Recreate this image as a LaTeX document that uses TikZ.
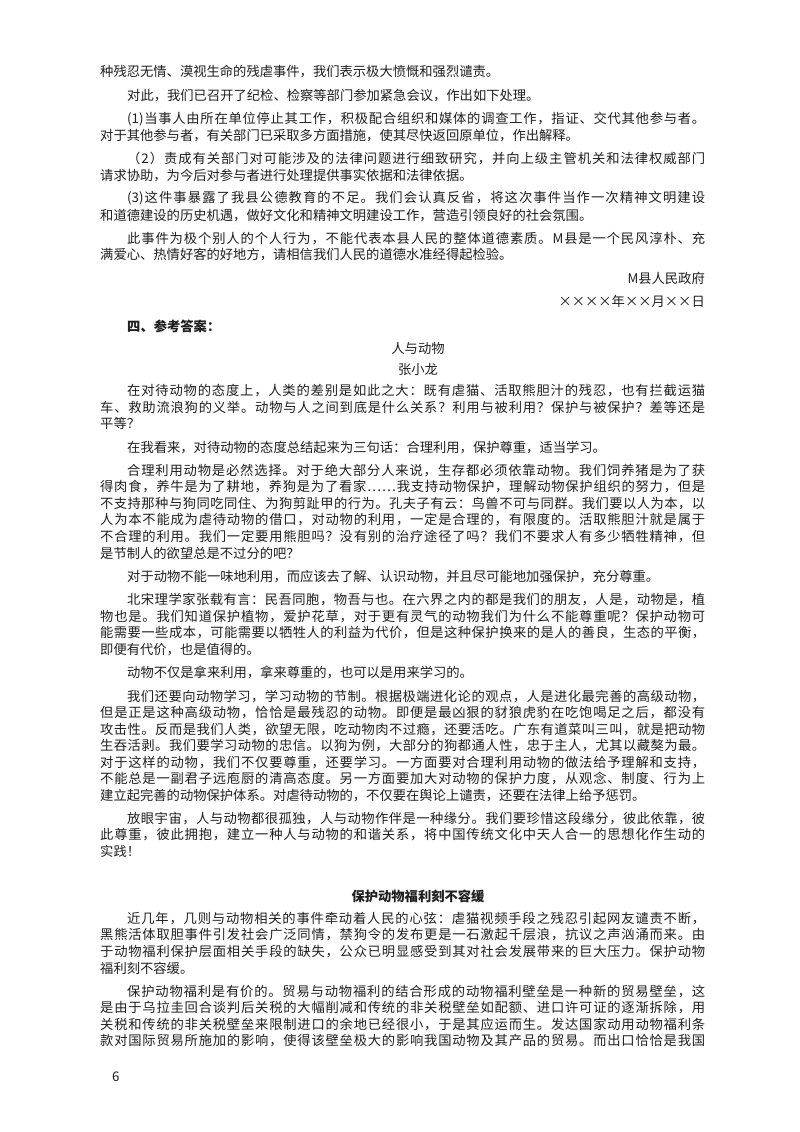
\documentclass[tikz,border=0pt]{standalone}
\usepackage{fontspec}
\setmainfont{Noto Sans CJK SC}
\newcount\cjkcc
\cjkcc="4E00 \loop \XeTeXcharclass\cjkcc=1 \advance\cjkcc 1 \ifnum\cjkcc<"A000 \repeat
\cjkcc="3000 \loop \XeTeXcharclass\cjkcc=1 \advance\cjkcc 1 \ifnum\cjkcc<"3040 \repeat
\cjkcc="FF00 \loop \XeTeXcharclass\cjkcc=1 \advance\cjkcc 1 \ifnum\cjkcc<"FF70 \repeat
\XeTeXcharclass"2026=1
\XeTeXcharclass"00D7=1
\XeTeXinterchartokenstate=1
\XeTeXinterchartoks 1 1 = {\hskip0pt plus 3pt minus 0.6pt\relax}
\XeTeXinterchartoks 0 1 = {\hskip0pt plus 3pt minus 0.6pt\relax}
\XeTeXinterchartoks 1 0 = {\hskip0pt plus 3pt minus 0.6pt\relax}
\newdimen\Y
\newcommand\Sp{\global\advance\Y 16.5pt}
\newcommand\Tp{\global\advance\Y 23.4pt}
\newcommand\Hp{\global\advance\Y 21.3pt}
\newcommand\FL[3]{\node[txt,anchor=west] (#1) at (#2pt,-\the\Y) {\makebox[\dimexpr705pt-#2pt\relax][s]{#3}};}
\newcommand\NL[3]{\node[txt,anchor=west] (#1) at (#2pt,-\the\Y) {#3};}
\newcommand\RL[2]{\node[txt,anchor=east] (#1) at (705pt,-\the\Y) {#2};}
\newcommand\CL[2]{\node[txt,anchor=center] (#1) at (418pt,-\the\Y) {#2};}
\begin{document}
\begin{tikzpicture}[x=1pt,y=1pt,txt/.style={inner sep=0pt,font=\fontsize{13.3}{16}\selectfont,text=black!88}]
\fill[white] (0,0) rectangle (800,-1132);
\useasboundingbox (0,0) rectangle (800,-1132);
\global\Y=72pt
\NL{a1}{100}{种残忍无情、漠视生命的残虐事件，我们表示极大愤慨和强烈谴责。}
\Tp\NL{a2}{127}{对此，我们已召开了纪检、检察等部门参加紧急会议，作出如下处理。}
\Tp\FL{a3}{127}{(1)当事人由所在单位停止其工作，积极配合组织和媒体的调查工作，指证、交代其他参与者。}
\Sp\NL{a4}{100}{对于其他参与者，有关部门已采取多方面措施，使其尽快返回原单位，作出解释。}
\Tp\FL{a5}{127}{（2）责成有关部门对可能涉及的法律问题进行细致研究，并向上级主管机关和法律权威部门}
\Sp\NL{a6}{100}{请求协助，为今后对参与者进行处理提供事实依据和法律依据。}
\Tp\FL{a7}{127}{(3)这件事暴露了我县公德教育的不足。我们会认真反省，将这次事件当作一次精神文明建设}
\Sp\NL{a8}{100}{和道德建设的历史机遇，做好文化和精神文明建设工作，营造引领良好的社会氛围。}
\Tp\FL{a9}{127}{此事件为极个别人的个人行为，不能代表本县人民的整体道德素质。M县是一个民风淳朴、充}
\Sp\NL{a10}{100}{满爱心、热情好客的好地方，请相信我们人民的道德水准经得起检验。}
\Tp\RL{a11}{M县人民政府}
\Tp\RL{a12}{××××年××月××日}
\global\advance\Y 25pt\NL{a13}{127}{\bfseries 四、参考答案：}
\Hp\CL{a14}{人与动物}
\Hp\CL{a15}{张小龙}
\Hp\FL{b1}{127}{在对待动物的态度上，人类的差别是如此之大：既有虐猫、活取熊胆汁的残忍，也有拦截运猫}
\Sp\FL{b2}{100}{车、救助流浪狗的义举。动物与人之间到底是什么关系？利用与被利用？保护与被保护？差等还是}
\Sp\NL{b3}{100}{平等？}
\Tp\NL{b4}{127}{在我看来，对待动物的态度总结起来为三句话：合理利用，保护尊重，适当学习。}
\Tp\FL{b5}{127}{合理利用动物是必然选择。对于绝大部分人来说，生存都必须依靠动物。我们饲养猪是为了获}
\Sp\FL{b6}{100}{得肉食，养牛是为了耕地，养狗是为了看家……我支持动物保护，理解动物保护组织的努力，但是}
\Sp\FL{b7}{100}{不支持那种与狗同吃同住、为狗剪趾甲的行为。孔夫子有云：鸟兽不可与同群。我们要以人为本，以}
\Sp\FL{b8}{100}{人为本不能成为虐待动物的借口，对动物的利用，一定是合理的，有限度的。活取熊胆汁就是属于}
\Sp\FL{b9}{100}{不合理的利用。我们一定要用熊胆吗？没有别的治疗途径了吗？我们不要求人有多少牺牲精神，但}
\Sp\NL{b10}{100}{是节制人的欲望总是不过分的吧？}
\Tp\NL{b11}{127}{对于动物不能一味地利用，而应该去了解、认识动物，并且尽可能地加强保护，充分尊重。}
\Tp\FL{b12}{127}{北宋理学家张载有言：民吾同胞，物吾与也。在六界之内的都是我们的朋友，人是，动物是，植}
\Sp\FL{b13}{100}{物也是。我们知道保护植物，爱护花草，对于更有灵气的动物我们为什么不能尊重呢？保护动物可}
\Sp\FL{b14}{100}{能需要一些成本，可能需要以牺牲人的利益为代价，但是这种保护换来的是人的善良，生态的平衡，}
\Sp\NL{b15}{100}{即便有代价，也是值得的。}
\Tp\NL{b16}{127}{动物不仅是拿来利用，拿来尊重的，也可以是用来学习的。}
\Tp\FL{b17}{127}{我们还要向动物学习，学习动物的节制。根据极端进化论的观点，人是进化最完善的高级动物，}
\Sp\FL{b18}{100}{但是正是这种高级动物，恰恰是最残忍的动物。即便是最凶狠的豺狼虎豹在吃饱喝足之后，都没有}
\Sp\FL{b19}{100}{攻击性。反而是我们人类，欲望无限，吃动物肉不过瘾，还要活吃。广东有道菜叫三叫，就是把动物}
\Sp\FL{b20}{100}{生吞活剥。我们要学习动物的忠信。以狗为例，大部分的狗都通人性，忠于主人，尤其以藏獒为最。}
\Sp\FL{b21}{100}{对于这样的动物，我们不仅要尊重，还要学习。一方面要对合理利用动物的做法给予理解和支持，}
\Sp\FL{b22}{100}{不能总是一副君子远庖厨的清高态度。另一方面要加大对动物的保护力度，从观念、制度、行为上}
\Sp\NL{b23}{100}{建立起完善的动物保护体系。对虐待动物的，不仅要在舆论上谴责，还要在法律上给予惩罚。}
\Tp\FL{b24}{127}{放眼宇宙，人与动物都很孤独，人与动物作伴是一种缘分。我们要珍惜这段缘分，彼此依靠，彼}
\Sp\FL{b25}{100}{此尊重，彼此拥抱，建立一种人与动物的和谐关系，将中国传统文化中天人合一的思想化作生动的}
\Sp\NL{b26}{100}{实践！}
\global\advance\Y 45pt\CL{c0}{\bfseries 保护动物福利刻不容缓}
\global\advance\Y 22pt\FL{c1}{127}{近几年，几则与动物相关的事件牵动着人民的心弦：虐猫视频手段之残忍引起网友谴责不断，}
\Sp\FL{c2}{100}{黑熊活体取胆事件引发社会广泛同情，禁狗令的发布更是一石激起千层浪，抗议之声汹涌而来。由}
\Sp\FL{c3}{100}{于动物福利保护层面相关手段的缺失，公众已明显感受到其对社会发展带来的巨大压力。保护动物}
\Sp\NL{c4}{100}{福利刻不容缓。}
\Tp\FL{c5}{127}{保护动物福利是有价的。贸易与动物福利的结合形成的动物福利壁垒是一种新的贸易壁垒，这}
\Sp\FL{c6}{100}{是由于乌拉圭回合谈判后关税的大幅削减和传统的非关税壁垒如配额、进口许可证的逐渐拆除，用}
\Sp\FL{c7}{100}{关税和传统的非关税壁垒来限制进口的余地已经很小，于是其应运而生。发达国家动用动物福利条}
\Sp\FL{c8}{100}{款对国际贸易所施加的影响，使得该壁垒极大的影响我国动物及其产品的贸易。而出口恰恰是我国}
\node[txt,anchor=west] (pg) at (112pt,-1077pt) {6};
\end{tikzpicture}
\end{document}
